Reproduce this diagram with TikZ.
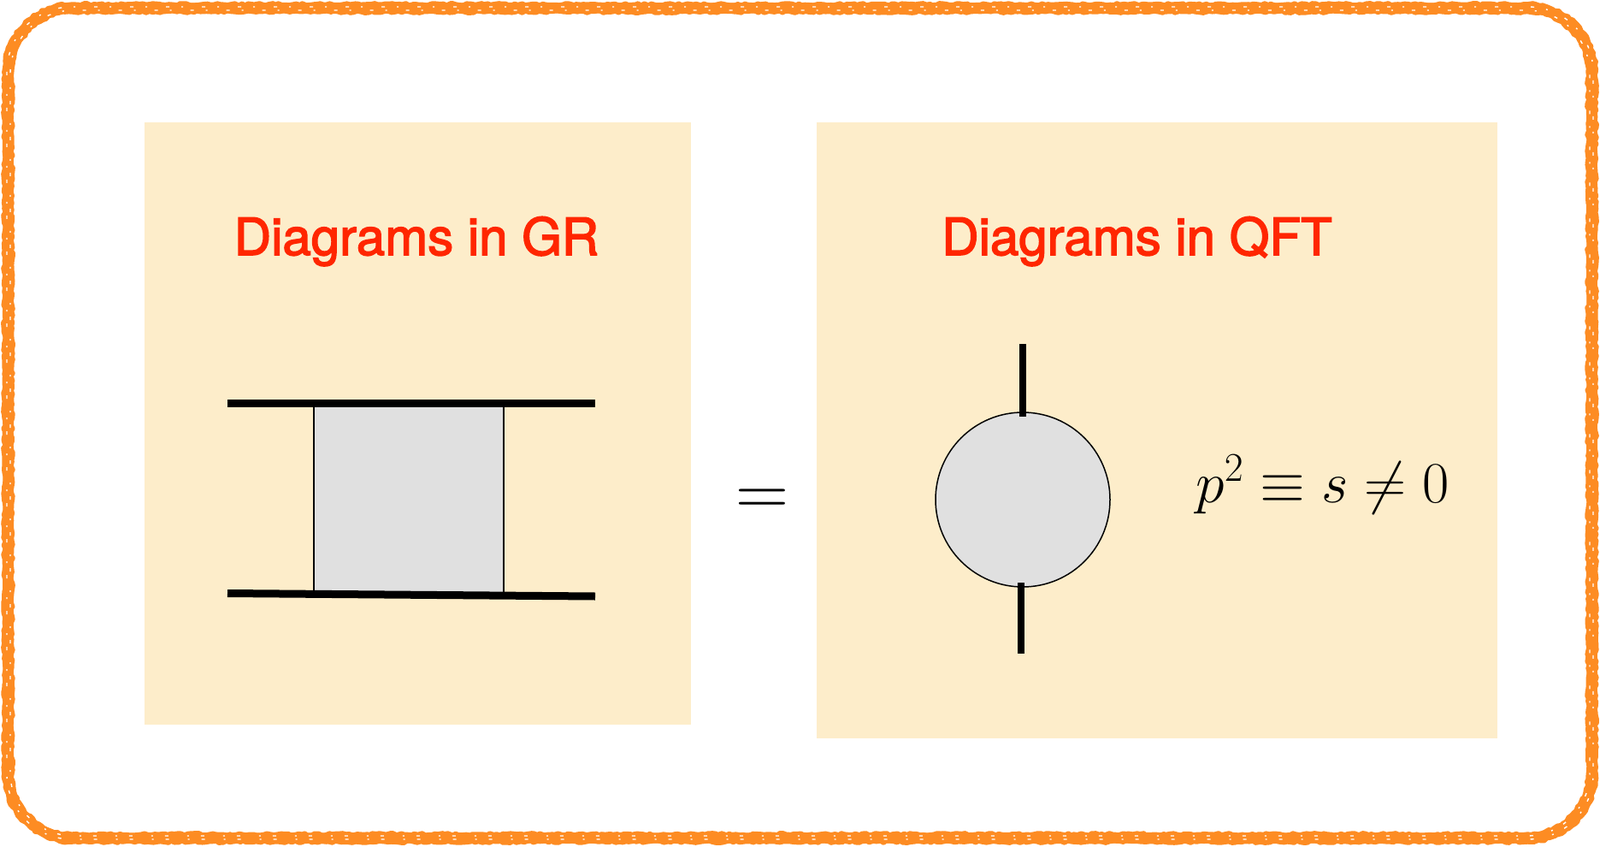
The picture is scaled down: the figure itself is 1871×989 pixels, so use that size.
\RequirePackage{fix-cm}
\documentclass[tikz,border=0pt]{standalone}
\usepackage{fontspec}
\newfontfamily\titlefont[FakeBold=2.5]{TeX Gyre Heros}
\usetikzlibrary{decorations.pathmorphing}
\definecolor{panelfill}{HTML}{FDEDCA}
\definecolor{titlered}{RGB}{255,38,0}
\definecolor{chalk}{RGB}{253,140,35}
\definecolor{blobgray}{HTML}{E0E0E0}
\tikzset{
  panelbox/.style={fill=panelfill, draw=none, inner sep=0pt},
  titletext/.style={text=titlered, font=\titlefont\fontsize{30}{35}\selectfont, anchor=base, inner sep=0pt},
  heavy/.style={line width=4.5pt, line cap=butt},
  stub/.style={line width=4pt, line cap=butt},
  thinline/.style={line width=1pt},
  rough/.style={chalk, line width=2.2pt, line join=round, line cap=round, decorate, decoration={random steps, segment length=2pt, amplitude=0.6pt}},
  speckle/.style={white, line width=0.7pt, dash pattern=on 2pt off 11pt on 1pt off 7pt},
}
\begin{document}
\begin{tikzpicture}[x=0.5pt,y=-0.5pt]
\useasboundingbox (0,0) rectangle (1871,989);
% chalk border
\draw[chalk, line width=6pt, rounded corners=37.5pt] (9.5,9.5) rectangle (1861.5,979.5);
\begin{scope}[yshift=-494.5pt, y=0.5pt]
\draw[rough] (84.5,4.5) -- (1786.5,4.5) arc[start angle=-90,end angle=0,radius=40pt]
  -- (1866.5,904.5) arc[start angle=0,end angle=90,radius=40pt]
  -- (84.5,984.5) arc[start angle=90,end angle=180,radius=40pt]
  -- (4.5,84.5) arc[start angle=180,end angle=270,radius=40pt] -- cycle;
\draw[rough] (84.5,14.5) -- (1786.5,14.5) arc[start angle=-90,end angle=0,radius=35pt]
  -- (1856.5,904.5) arc[start angle=0,end angle=90,radius=35pt]
  -- (84.5,974.5) arc[start angle=90,end angle=180,radius=35pt]
  -- (14.5,84.5) arc[start angle=180,end angle=270,radius=35pt] -- cycle;
\end{scope}
\draw[speckle, rounded corners=38pt] (8,8) rectangle (1863,981);
\draw[speckle, dash phase=5pt, rounded corners=37pt] (12,12) rectangle (1859,977);
% panels
\node[panelbox, minimum width=319.5pt, minimum height=352pt] (lp) at (488.5,495) {};
\node[panelbox, minimum width=398pt, minimum height=360pt] (rp) at (1353,503) {};
% titles
\node[titletext] (tl) at (487,298) {Diagrams in GR};
\node[titletext] (tr) at (1329.5,298) {Diagrams in QFT};
% GR box diagram
\node[fill=blobgray, draw=none, inner sep=0pt, minimum width=111pt, minimum height=111pt] (bx) at (478,582.5) {};
\coordinate (vlt) at (367,471);
\coordinate (vlb) at (367,693);
\coordinate (vrt) at (589,471);
\coordinate (vrb) at (589,696);
\draw[thinline] (vlt) -- (vlb);
\draw[thinline] (vrt) -- (vrb);
\coordinate (tla) at (266,471.5);
\coordinate (tlb) at (696,471.5);
\coordinate (bla) at (266,693.5);
\coordinate (blb) at (696,697);
\draw[heavy] (tla) -- (tlb);
\draw[heavy] (bla) -- (blb);
% equals sign
\node[anchor=base, inner sep=0pt, font=\fontsize{43}{50}\selectfont] (eqsign) at (891,602) {$=$};
% QFT blob
\node[circle, draw, line width=0.75pt, fill=blobgray, minimum size=102pt, inner sep=0pt] (blob) at (1196,584) {};
\coordinate (st1) at (1196,402);
\coordinate (st2) at (1196,487);
\coordinate (sb1) at (1194,681);
\coordinate (sb2) at (1194,764);
\draw[stub] (st1) -- (st2);
\draw[stub] (sb1) -- (sb2);
% formula
\node[anchor=base west, inner sep=0pt, font=\fontsize{34}{40}\selectfont] (formula) at (1398,587) {$p^2\equiv s\neq 0$};
\end{tikzpicture}
\end{document}
